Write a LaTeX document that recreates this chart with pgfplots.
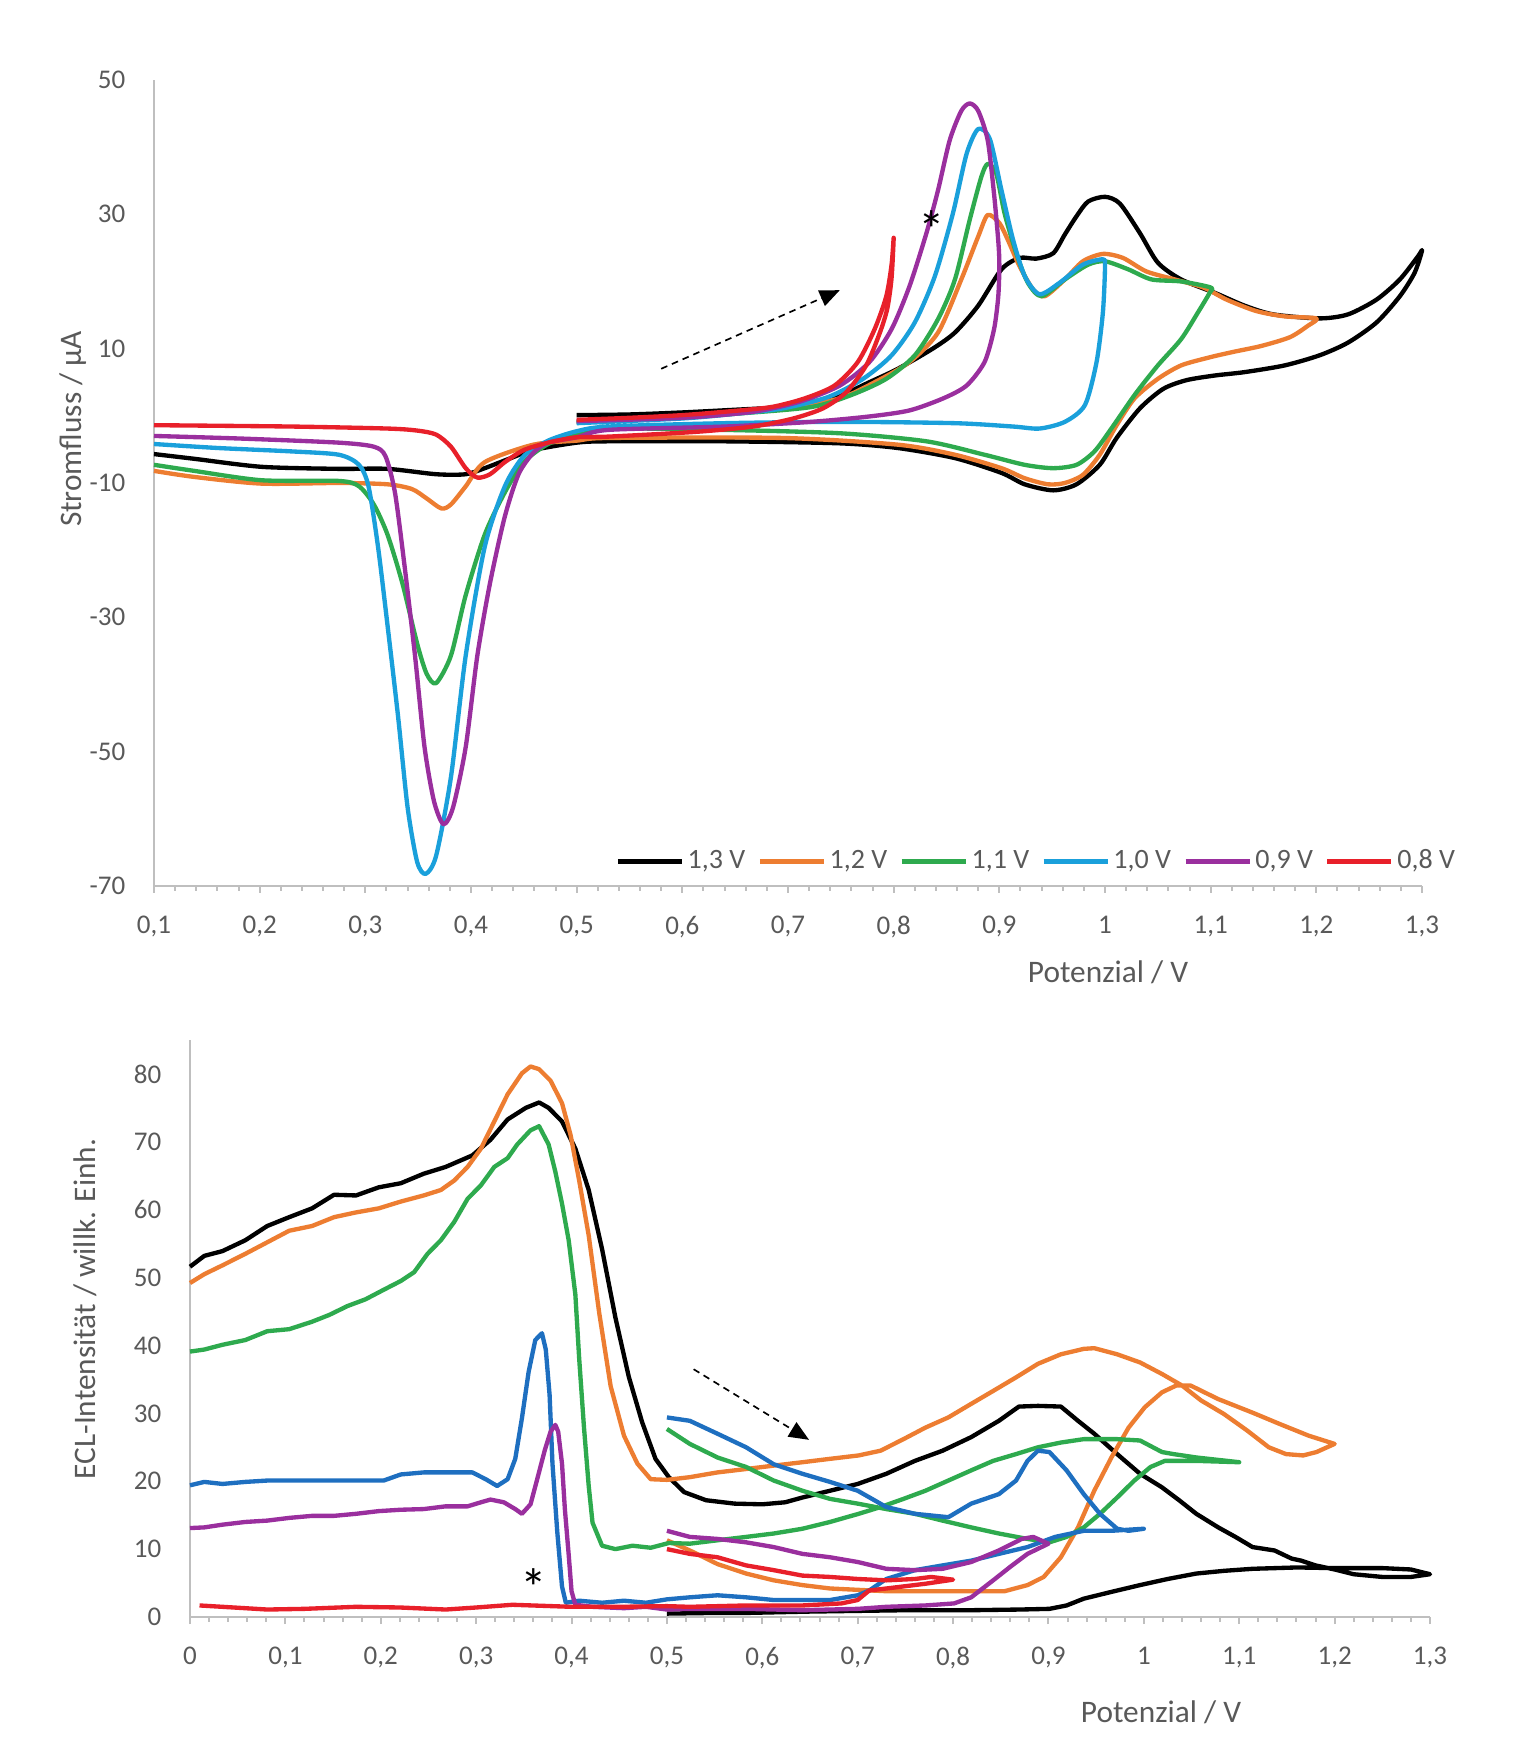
\documentclass[border=0pt]{standalone}
\usepackage{fontspec}
\setmainfont{Carlito}
\usepackage{pgfplots}
\pgfplotsset{compat=1.18}
\usetikzlibrary{arrows.meta}
\definecolor{cblack}{HTML}{000000}
\definecolor{corange}{HTML}{ED7D31}
\definecolor{cgreen}{HTML}{2EAA4E}
\definecolor{cltblue}{HTML}{1AA0DB}
\definecolor{cblue}{HTML}{1E6FC0}
\definecolor{cpurple}{HTML}{9A2F9E}
\definecolor{cred}{HTML}{E8202A}
\definecolor{axgray}{HTML}{BFBFBF}
\definecolor{txtgray}{HTML}{595959}
\pgfplotsset{
  base/.style={
    scale only axis,
    axis lines*=left,
    axis line style={axgray, line width=0.6pt},
    tick align=outside,
    every tick/.style={axgray, line width=0.6pt},
    ytick style={draw=none},
    major tick length=2.1pt,
    minor tick length=1.4pt,
    minor x tick num=4,
    tick label style={font=\fontsize{8.1}{9.7}\selectfont, text=txtgray},
    yticklabel style={xshift=-3pt},
    xticklabel style={yshift=-3.5pt},
    /pgf/number format/assume math mode=true,
    clip=false,
  },
}
\tikzset{ttl/.style={font=\fontsize{9.4}{11}\selectfont, text=txtgray, inner sep=0pt},
  star/.style={font=\fontsize{16}{18}\selectfont, anchor=base, inner sep=0pt, yshift=-8.2pt}}
\begin{document}
\begin{tikzpicture}
\path[use as bounding box] (0pt,0pt) rectangle (454.8pt,523.8pt);
% ================= TOP: CV =================
\begin{axis}[base,
  at={(46.2pt,258pt)}, anchor=south west,
  width=380.4pt, height=241.8pt,
  xmin=0.1, xmax=1.3, ymin=-70, ymax=50,
  xtick={0.1,0.2,0.3,0.4,0.5,0.6,0.7,0.8,0.9,1.0,1.1,1.2,1.3},
  xticklabels={{0,1},{0,2},{0,3},{0,4},{0,5},{0,6},{0,7},{0,8},{0,9},{1},{1,1},{1,2},{1,3}},
  ytick={-70,-50,-30,-10,10,30,50},
  yticklabels={-70,-50,-30,-10,10,30,50},
  every axis plot/.append style={line width=1.3pt, line join=round, smooth, tension=0.45},
  legend columns=6,
  legend image code/.code={\draw[#1, line width=1.5pt] (0pt,0pt) -- (19.2pt,0pt);},
  legend style={at={(axis cs:0.536,-66.4)}, anchor=west, draw=none, fill=none,
    inner sep=0pt, font=\fontsize{8.4}{10}\selectfont, text=txtgray,
    nodes={inner sep=0.6pt},
    /tikz/every odd column/.append style={column sep=0.4pt},
    /tikz/every even column/.append style={column sep=3.0pt}},
]
% 1,3 V
\addplot[cblack] coordinates {
(0.5,0.1)(0.55,0.2)(0.6,0.5)(0.65,0.9)(0.695,1.3)(0.72,2.0)(0.749,3.0)(0.777,5.0)(0.804,7.0)(0.837,10.0)(0.858,12.4)(0.88,16.4)(0.902,21.8)(0.919,23.5)(0.935,23.4)(0.951,24.2)(0.962,27.0)(0.973,29.7)(0.984,31.9)(1.0,32.6)(1.014,31.6)(1.033,27.2)(1.05,22.8)(1.072,20.3)(1.104,18.3)(1.132,16.4)(1.159,15.1)(1.203,14.5)(1.23,15.1)(1.257,17.3)(1.279,20.3)(1.296,23.7)(1.3,24.6)
(1.293,21.3)(1.279,17.8)(1.257,13.9)(1.23,10.9)(1.203,9.0)(1.17,7.5)(1.132,6.5)(1.104,6.0)(1.077,5.3)(1.055,4.0)(1.033,1.1)(1.011,-3.3)(0.995,-7.3)(0.973,-10.2)(0.951,-11.1)(0.924,-10.2)(0.902,-8.5)(0.858,-6.3)(0.804,-4.8)(0.749,-4.1)(0.64,-3.8)(0.53,-3.8)
(0.5,-4.0)(0.459,-5.1)(0.436,-6.4)(0.413,-7.8)(0.395,-8.7)(0.367,-8.7)(0.321,-7.9)(0.275,-7.9)(0.202,-7.6)(0.138,-6.4)(0.1,-5.7)};
\addlegendentry{1,3 V}
% 1,2 V
\addplot[corange] coordinates {
(0.5,-0.9)(0.55,-0.5)(0.6,0.0)(0.65,0.5)(0.7,1.2)(0.749,2.6)(0.782,5.0)(0.815,8.0)(0.842,12.4)(0.864,20.3)(0.88,26.7)(0.889,29.9)(0.9,28.7)(0.908,26.2)(0.919,22.3)(0.932,18.8)(0.943,17.8)(0.962,20.3)(0.979,23.0)(0.998,24.1)(1.017,23.5)(1.039,21.5)(1.066,20.3)(1.093,19.1)(1.115,17.3)(1.143,15.6)(1.17,14.8)(1.2,14.5)
(1.192,13.4)(1.175,11.7)(1.148,10.4)(1.121,9.5)(1.099,8.7)(1.072,7.5)(1.05,5.5)(1.028,2.6)(1.011,-1.4)(0.995,-5.8)(0.979,-8.8)(0.962,-10.0)(0.946,-10.2)(0.924,-9.3)(0.902,-7.8)(0.858,-5.8)(0.804,-4.3)(0.695,-3.3)(0.53,-3.3)
(0.5,-3.7)(0.459,-4.3)(0.413,-6.9)(0.395,-10.5)(0.381,-13.2)(0.372,-13.8)(0.358,-12.3)(0.344,-10.9)(0.321,-10.2)(0.275,-10.0)(0.202,-10.1)(0.138,-9.1)(0.1,-8.2)};
\addlegendentry{1,2 V}
% 1,1 V
\addplot[cgreen] coordinates {
(0.5,-0.9)(0.6,-0.2)(0.65,0.3)(0.722,1.3)(0.76,3.1)(0.793,5.5)(0.82,9.0)(0.842,14.4)(0.858,20.3)(0.872,29.2)(0.883,35.6)(0.889,37.5)(0.897,36.1)(0.905,30.1)(0.916,24.2)(0.927,19.8)(0.94,17.8)(0.962,20.3)(0.984,22.5)(1.0,23.0)(1.022,21.8)(1.044,20.3)(1.072,20.0)(1.1,19.1)
(1.099,18.3)(1.088,15.4)(1.072,11.4)(1.05,7.5)(1.028,3.1)(1.006,-1.9)(0.99,-5.3)(0.973,-7.3)(0.951,-7.8)(0.924,-7.3)(0.886,-5.8)(0.831,-3.8)(0.749,-2.6)(0.64,-2.1)(0.53,-1.9)
(0.5,-2.8)(0.473,-4.2)(0.45,-6.9)(0.432,-11.4)(0.413,-17.7)(0.395,-26.7)(0.381,-35.7)(0.367,-39.8)(0.358,-38.4)(0.349,-33.9)(0.335,-24.9)(0.321,-17.7)(0.308,-13.2)(0.294,-10.5)(0.275,-9.7)(0.202,-9.6)(0.138,-8.2)(0.1,-7.3)};
\addlegendentry{1,1 V}
% 1,0 V
\addplot[cltblue] coordinates {
(0.5,-1.1)(0.6,-0.4)(0.65,0.3)(0.695,1.1)(0.738,2.8)(0.771,5.5)(0.798,9.0)(0.82,13.9)(0.839,20.8)(0.856,30.1)(0.869,39.0)(0.88,42.7)(0.891,41.2)(0.902,33.6)(0.913,26.2)(0.924,20.8)(0.938,18.1)(0.957,19.8)(0.979,22.5)(0.998,23.3)(1.0,22.3)
(0.998,15.4)(0.992,8.0)(0.981,1.6)(0.962,-0.9)(0.938,-1.9)(0.913,-1.6)(0.858,-1.1)(0.749,-0.9)(0.64,-1.1)(0.53,-1.6)
(0.5,-2.3)(0.473,-3.7)(0.45,-6.0)(0.432,-10.5)(0.413,-19.5)(0.395,-35.7)(0.381,-53.8)(0.367,-65.5)(0.357,-68.2)(0.349,-66.4)(0.34,-58.3)(0.331,-44.8)(0.321,-31.2)(0.312,-19.5)(0.303,-10.5)(0.294,-7.3)(0.275,-5.8)(0.23,-5.3)(0.161,-4.8)(0.1,-4.2)};
\addlegendentry{1,0 V}
% 0,9 V
\addplot[cpurple] coordinates {
(0.5,-0.8)(0.6,-0.3)(0.667,0.6)(0.711,2.1)(0.749,4.5)(0.777,8.0)(0.798,12.9)(0.815,19.3)(0.831,27.2)(0.842,33.6)(0.853,41.0)(0.864,45.4)(0.872,46.5)(0.88,45.4)(0.889,41.0)(0.895,33.0)(0.899,26.0)(0.9,22.5)
(0.899,17.8)(0.895,12.9)(0.886,8.0)(0.869,4.5)(0.847,2.6)(0.815,0.8)(0.777,-0.1)(0.722,-0.9)(0.64,-1.6)(0.53,-2.1)
(0.5,-3.2)(0.473,-4.0)(0.459,-5.5)(0.445,-8.7)(0.432,-15.0)(0.418,-24.9)(0.406,-35.7)(0.395,-49.3)(0.383,-58.3)(0.374,-60.8)(0.365,-57.4)(0.356,-49.3)(0.347,-35.7)(0.337,-22.2)(0.328,-11.4)(0.319,-6.0)(0.308,-4.6)(0.275,-4.0)(0.184,-3.4)(0.1,-3.0)};
\addlegendentry{0,9 V}
% 0,8 V
\addplot[cred] coordinates {
(0.5,-0.6)(0.55,-0.3)(0.6,0.1)(0.64,0.6)(0.684,1.3)(0.716,2.6)(0.744,4.5)(0.766,8.0)(0.782,12.9)(0.793,17.8)(0.798,22.5)(0.8,26.5)
(0.798,20.5)(0.794,16.0)(0.787,12.4)(0.774,7.5)(0.755,3.5)(0.733,1.1)(0.705,-0.4)(0.667,-1.6)(0.612,-2.4)(0.53,-3.1)
(0.5,-3.2)(0.473,-4.0)(0.45,-5.1)(0.432,-6.9)(0.418,-8.7)(0.406,-9.2)(0.395,-7.8)(0.381,-4.6)(0.367,-2.8)(0.349,-2.2)(0.321,-1.9)(0.23,-1.6)(0.1,-1.4)};
\addlegendentry{0,8 V}
\node[star] at (axis cs:0.836,29.0) {*};
\draw[black, line width=0.5pt, dash pattern=on 2pt off 1.5pt, -{Triangle[length=6pt,width=5pt]}] (axis cs:0.58,7.0) -- (axis cs:0.749,18.7);
\end{axis}
\node[ttl] at (332.4pt,232.2pt) {Potenzial / V};
\node[ttl, rotate=90] at (21.8pt,395.1pt) {Stromfluss / µA};
% ================= BOTTOM: ECL =================
\begin{axis}[base,
  at={(57pt,38.7pt)}, anchor=south west,
  width=372pt, height=173.1pt,
  xmin=0, xmax=1.3, ymin=0, ymax=85,
  xtick={0,0.1,0.2,0.3,0.4,0.5,0.6,0.7,0.8,0.9,1.0,1.1,1.2,1.3},
  xticklabels={{0},{0,1},{0,2},{0,3},{0,4},{0,5},{0,6},{0,7},{0,8},{0,9},{1},{1,1},{1,2},{1,3}},
  ytick={0,10,20,30,40,50,60,70,80},
  every axis plot/.append style={line width=1.3pt, line join=round},
]
% 1,3 V
\addplot[cblack] coordinates {
(0.5,0.5)(0.55,0.6)(0.583,0.6)(0.65,0.8)(0.7,0.9)(0.75,1.0)(0.819,1.0)(0.87,1.1)(0.901,1.2)(0.919,1.7)(0.937,2.7)(0.966,3.7)(0.996,4.7)(1.025,5.6)(1.055,6.4)(1.084,6.8)(1.114,7.1)(1.161,7.3)(1.2,7.2)(1.25,7.2)(1.28,7.0)(1.3,6.3)
(1.28,5.9)(1.25,5.9)(1.22,6.3)(1.2,7.0)(1.18,7.6)(1.165,8.3)(1.155,8.6)(1.137,9.8)(1.114,10.3)(1.096,11.8)(1.078,13.2)(1.055,15.2)(1.037,17.2)(1.019,19.1)(0.996,21.1)(0.972,24.0)(0.948,27.0)(0.931,28.9)(0.913,31.0)(0.889,31.1)(0.869,31.0)(0.848,28.9)(0.819,26.5)(0.789,24.5)(0.76,23.0)(0.73,21.1)(0.7,19.6)(0.671,18.6)(0.642,17.6)(0.624,16.9)(0.6,16.6)(0.571,16.7)(0.541,17.2)(0.518,18.4)(0.502,20.6)(0.488,23.3)(0.474,28.7)(0.46,35.4)(0.446,44.1)(0.432,54.2)(0.418,62.9)(0.404,69.0)(0.39,73.0)(0.376,75.0)(0.366,75.8)(0.352,75.0)(0.333,73.3)(0.315,70.3)(0.296,68.0)(0.268,66.3)(0.245,65.3)(0.221,63.9)(0.198,63.3)(0.174,62.1)(0.151,62.2)(0.128,60.2)(0.104,58.9)(0.081,57.6)(0.058,55.5)(0.034,53.9)(0.015,53.2)(0,51.6)};
% 1,2 V
\addplot[corange] coordinates {
(0.5,11.3)(0.524,9.8)(0.553,7.8)(0.583,6.4)(0.612,5.4)(0.642,4.7)(0.671,4.2)(0.73,3.8)(0.789,3.8)(0.854,3.8)(0.878,4.7)(0.895,5.9)(0.913,8.8)(0.931,13.2)(0.948,18.6)(0.966,23.5)(0.984,27.9)(1.001,30.9)(1.019,33.1)(1.034,34.1)(1.049,34.1)(1.078,32.1)(1.114,30.1)(1.143,28.4)(1.173,26.7)(1.2,25.5)
(1.181,24.3)(1.167,23.8)(1.149,24.0)(1.131,25.0)(1.108,27.5)(1.084,29.9)(1.06,31.9)(1.04,34.1)(1.019,35.8)(0.996,37.5)(0.972,38.7)(0.948,39.6)(0.937,39.5)(0.913,38.7)(0.889,37.3)(0.866,35.3)(0.842,33.3)(0.819,31.4)(0.795,29.4)(0.771,27.9)(0.748,26.2)(0.724,24.5)(0.701,23.8)(0.671,23.3)(0.642,22.8)(0.612,22.3)(0.583,21.8)(0.553,21.3)(0.524,20.6)(0.5,20.2)(0.483,20.3)(0.469,22.6)(0.455,26.7)(0.441,34.0)(0.429,44.8)(0.418,56.2)(0.408,64.3)(0.399,71.0)(0.39,75.7)(0.378,79.0)(0.366,80.7)(0.357,81.1)(0.348,80.1)(0.333,77.0)(0.319,73.0)(0.305,69.0)(0.291,66.3)(0.277,64.3)(0.263,62.9)(0.245,62.1)(0.221,61.2)(0.198,60.2)(0.174,59.6)(0.151,58.9)(0.128,57.6)(0.104,56.9)(0.081,55.2)(0.058,53.5)(0.034,51.8)(0.015,50.5)(0,49.2)};
% 1,1 V
\addplot[cgreen] coordinates {
(0.5,27.7)(0.524,25.5)(0.553,23.5)(0.583,22.1)(0.612,20.1)(0.642,18.6)(0.671,17.4)(0.7,16.7)(0.73,15.9)(0.76,15.2)(0.789,14.2)(0.819,13.2)(0.848,12.3)(0.878,11.5)(0.901,11.0)(0.919,11.8)(0.937,13.2)(0.954,15.2)(0.972,17.6)(0.99,20.1)(1.007,22.1)(1.022,23.0)(1.055,23.0)(1.1,22.8)
(1.055,23.5)(1.031,24.0)(1.019,24.3)(0.996,26.0)(0.972,26.2)(0.937,26.2)(0.913,25.7)(0.889,25.0)(0.866,24.0)(0.842,23.0)(0.819,21.6)(0.795,20.1)(0.771,18.6)(0.748,17.4)(0.724,16.2)(0.701,15.2)(0.671,14.0)(0.642,13.0)(0.612,12.3)(0.583,11.8)(0.553,11.3)(0.524,10.8)(0.502,10.9)(0.483,10.2)(0.464,10.5)(0.446,10.0)(0.432,10.5)(0.422,13.9)(0.418,19.3)(0.413,28.0)(0.408,38.1)(0.404,47.5)(0.397,55.5)(0.39,60.9)(0.383,65.6)(0.376,69.6)(0.366,72.3)(0.357,71.7)(0.343,69.6)(0.333,67.6)(0.319,66.3)(0.305,63.6)(0.291,61.6)(0.277,58.2)(0.263,55.5)(0.249,53.5)(0.235,50.8)(0.221,49.5)(0.203,48.2)(0.184,46.8)(0.165,45.8)(0.146,44.5)(0.128,43.5)(0.104,42.4)(0.081,42.1)(0.058,40.8)(0.034,40.1)(0.015,39.4)(0,39.1)};
% 1,0 V
\addplot[cblue] coordinates {
(0.5,29.4)(0.524,28.9)(0.553,27.0)(0.583,25.0)(0.612,22.5)(0.642,21.1)(0.671,19.9)(0.7,18.6)(0.73,16.2)(0.76,15.2)(0.795,14.7)(0.819,16.7)(0.848,18.1)(0.866,20.1)(0.878,23.0)(0.889,24.5)(0.901,24.3)(0.919,21.6)(0.937,18.1)(0.954,15.2)(0.972,13.0)(0.984,12.7)(1.0,13.0)
(0.966,12.7)(0.937,12.7)(0.907,11.8)(0.878,10.3)(0.848,9.3)(0.819,8.3)(0.789,7.6)(0.76,6.9)(0.73,5.6)(0.712,3.9)(0.7,3.2)(0.671,2.5)(0.642,2.5)(0.612,2.5)(0.583,2.9)(0.553,3.2)(0.524,2.9)(0.5,2.6)(0.478,2.1)(0.455,2.4)(0.432,2.1)(0.408,2.4)(0.394,2.1)(0.39,4.5)(0.385,12.6)(0.38,22.6)(0.377,32.7)(0.373,39.4)(0.369,41.8)(0.362,40.8)(0.355,36.1)(0.348,29.3)(0.341,23.3)(0.333,20.3)(0.322,19.3)(0.31,20.3)(0.296,21.3)(0.268,21.3)(0.245,21.3)(0.221,21.0)(0.203,20.1)(0.174,20.1)(0.128,20.1)(0.081,20.1)(0.058,19.9)(0.034,19.6)(0.015,19.9)(0,19.4)};
% 0,9 V
\addplot[cpurple] coordinates {
(0.5,12.7)(0.524,11.8)(0.553,11.5)(0.583,11.0)(0.612,10.3)(0.642,9.3)(0.671,8.8)(0.7,8.1)(0.73,7.1)(0.76,6.9)(0.789,7.1)(0.819,8.1)(0.848,9.8)(0.872,11.5)(0.884,11.8)(0.9,10.8)
(0.878,9.3)(0.86,7.4)(0.842,5.4)(0.819,2.9)(0.801,2.0)(0.771,1.7)(0.73,1.5)(0.7,1.2)(0.642,1.0)(0.583,1.2)(0.524,1.2)(0.5,1.1)(0.478,1.5)(0.455,1.3)(0.422,1.5)(0.404,1.8)(0.4,3.8)(0.397,9.2)(0.393,15.9)(0.39,22.6)(0.386,27.3)(0.383,28.3)(0.378,27.3)(0.372,24.6)(0.364,20.3)(0.357,16.6)(0.348,15.2)(0.341,15.9)(0.329,16.9)(0.315,17.3)(0.305,16.9)(0.291,16.3)(0.268,16.3)(0.245,15.9)(0.221,15.8)(0.198,15.6)(0.174,15.2)(0.151,14.9)(0.128,14.9)(0.104,14.6)(0.081,14.2)(0.058,14.0)(0.034,13.6)(0.015,13.2)(0,13.1)};
% 0,8 V
\addplot[cred] coordinates {
(0.5,10.0)(0.524,9.3)(0.553,8.8)(0.583,7.6)(0.612,6.9)(0.642,6.1)(0.671,5.9)(0.7,5.6)(0.73,5.4)(0.76,5.6)(0.777,5.9)(0.8,5.5)
(0.771,4.9)(0.742,4.4)(0.712,3.9)(0.7,2.5)(0.683,2.0)(0.642,1.7)(0.583,1.7)(0.524,1.5)(0.5,1.6)(0.45,1.5)(0.4,1.5)(0.338,1.8)(0.3,1.4)(0.268,1.1)(0.22,1.4)(0.174,1.5)(0.12,1.2)(0.081,1.1)(0.034,1.5)(0.01,1.7)};
\node[star] at (axis cs:0.36,5.6) {*};
\draw[black, line width=0.5pt, dash pattern=on 2pt off 1.5pt, -{Triangle[length=6pt,width=5pt]}] (axis cs:0.528,36.5) -- (axis cs:0.649,26.1);
\end{axis}
\node[ttl] at (348.3pt,10.2pt) {Potenzial / V};
\node[ttl, rotate=90] at (25.5pt,131.1pt) {ECL-Intensität / willk. Einh.};
\end{tikzpicture}
\end{document}
